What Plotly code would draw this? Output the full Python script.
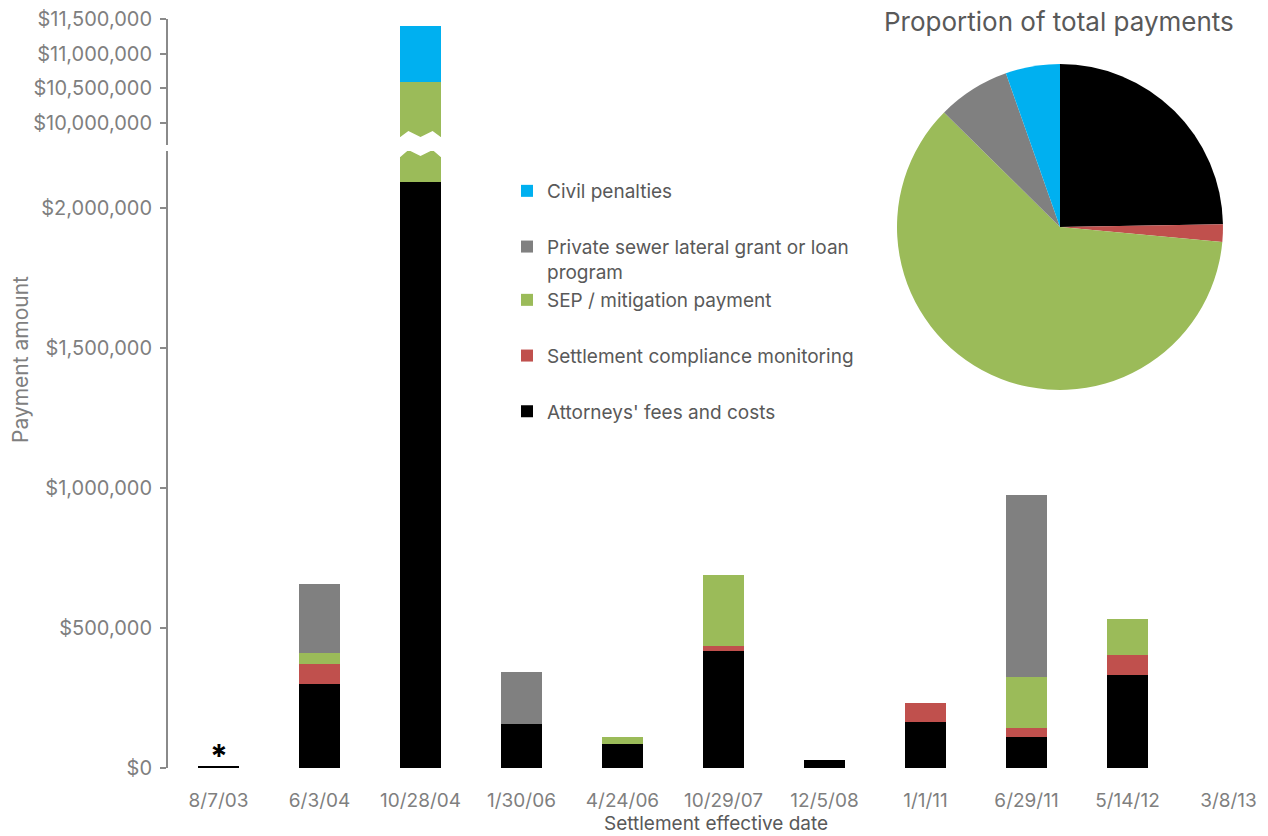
import plotly.graph_objects as go

# ---------------- data ----------------
dates = ["8/7/03", "6/3/04", "10/28/04", "1/30/06", "4/24/06", "10/29/07",
         "12/5/08", "1/1/11", "6/29/11", "5/14/12", "3/8/13"]
attorneys = [8000, 300000, 2094000, 157000, 87000, 419000, 27000, 165000, 112000, 332000, 0]
compliance = [0, 72000, 0, 0, 0, 18000, 0, 66000, 32000, 72000, 0]
sep = [0, 40000, 8499000, 0, 25000, 251000, 0, 0, 181000, 127000, 0]
sewer = [0, 245000, 0, 185000, 0, 0, 0, 0, 649000, 0, 0]
civil = [0, 0, 806000, 0, 0, 0, 0, 0, 0, 0, 0]

series_names = ["Attorneys' fees and costs", "Settlement compliance monitoring",
                "SEP / mitigation payment", "Private sewer lateral grant or loan<br>program",
                "Civil penalties"]
series_vals = [attorneys, compliance, sep, sewer, civil]
series_colors = ["#000000", "#C0504D", "#9BBB59", "#808080", "#00B0F0"]
series_legend = ["legend2", "legend2", "legend2", "legend", "legend"]
series_rank = [5, 4, 3, 2, 1]

low_ticks = [0, 500000, 1000000, 1500000, 2000000]
high_ticks = [10000000, 10500000, 11000000, 11500000]

# ---------------- layout geometry ----------------
W, H = 1268, 836
ML, MR, MT, MB = 168, 4, 19, 68
PW, PH = W - ML - MR, H - MT - MB
def py(p):  # pixel y -> paper y
    return (H - MB - p) / PH
def px(p):  # pixel x -> paper x
    return (p - ML) / PW

FONT = "Inter"
TICKC = "#7f7f7f"
TEXTC = "#595959"
AXC = "#8a8a8a"

fig = go.Figure()
for name, vals, col, lg, rk in zip(series_names, series_vals, series_colors,
                                   series_legend, series_rank):
    fig.add_trace(go.Bar(x=dates, y=vals, name=name, marker_color=col,
                         marker_line_width=0, width=0.4, xaxis="x", yaxis="y",
                         legendgroup=name, legend=lg, legendrank=rk))
    fig.add_trace(go.Bar(x=dates, y=vals, name=name, marker_color=col,
                         marker_line_width=0, width=0.4, xaxis="x2", yaxis="y2",
                         legendgroup=name, showlegend=False, legend=lg, legendrank=rk))

totals = [sum(v) for v in zip(*series_vals)]
fig.add_trace(go.Pie(labels=[n.replace("<br>", " ") for n in series_names],
                     values=[sum(v) for v in series_vals],
                     marker=dict(colors=series_colors, line=dict(width=0)),
                     sort=False, direction="clockwise", rotation=0,
                     textinfo="none", hoverinfo="label+percent", showlegend=False,
                     domain=dict(x=[px(897), px(1223)], y=[py(390), py(64)])))

def money(v):
    return f"${v:,}"

xr = [-0.5, -0.5 + PW / 101.0]
yax_common = dict(showline=True, linecolor=AXC, linewidth=2, ticks="outside",
                  ticklen=6, tickcolor=AXC, tickwidth=1.5, showgrid=False,
                  zeroline=False, ticklabelstandoff=4,
                  tickfont=dict(size=20, color=TICKC, family=FONT))
legend_common = dict(xanchor="left", yanchor="top", traceorder="grouped",
                     tracegroupgap=28, valign="top",
                     font=dict(size=19, color=TEXTC, family=FONT),
                     bgcolor="rgba(0,0,0,0)")
fig.update_layout(
    width=W, height=H, barmode="stack",
    margin=dict(l=ML, r=MR, t=MT, b=MB, autoexpand=False),
    paper_bgcolor="white", plot_bgcolor="white",
    font=dict(family=FONT, color=TICKC),
    xaxis=dict(domain=[0, 1], range=xr, anchor="y", showline=False, showgrid=False,
               ticks="", ticklabelstandoff=19, tickfont=dict(size=19, color=TICKC),
               zeroline=False),
    xaxis2=dict(domain=[0, 1], range=xr, anchor="y2", matches="x", showline=False,
                showgrid=False, showticklabels=False, ticks="", zeroline=False),
    yaxis=dict(domain=[0, py(151)], range=[0, (H - MB - 151) / 280.0 * 1e6],
               tickvals=low_ticks, ticktext=[money(v) for v in low_ticks], **yax_common),
    yaxis2=dict(domain=[py(145), 1],
                range=[11500000 - (145 - MT) / (104.0 / 1.5e6), 11500000],
                tickvals=high_ticks, ticktext=[money(v) for v in high_ticks], **yax_common),
    legend=dict(x=px(507), y=py(172), **legend_common),
    legend2=dict(x=px(507), y=py(281), **legend_common),
    showlegend=True,
)

# axis titles and pie title
fig.add_annotation(text="Payment amount", xref="paper", yref="paper",
                   x=px(20), y=py(360), xanchor="center", yanchor="middle",
                   textangle=-90, showarrow=False,
                   font=dict(size=21, color=TICKC, family=FONT))
fig.add_annotation(text="Settlement effective date", xref="paper", yref="paper",
                   x=px(716), y=py(823), xanchor="center", yanchor="middle",
                   showarrow=False, font=dict(size=19, color=TEXTC, family=FONT))
fig.add_annotation(text="Proportion of total payments", xref="paper", yref="paper",
                   x=px(1059), y=py(21), xanchor="center", yanchor="middle",
                   showarrow=False, font=dict(size=26, color=TEXTC, family=FONT))

# asterisk above the tiny first bar
fig.add_annotation(text="<b>*</b>", x=dates[0], y=totals[0], xref="x", yref="y",
                   xanchor="center", yanchor="bottom", showarrow=False, yshift=-12,
                   font=dict(size=32, color="black", family=FONT))

# zig-zag break on the tallest bar
i = totals.index(max(totals))
up = [(-0.22, 137), (-0.2, 137), (-0.12, 131), (0.0, 137), (0.12, 131), (0.2, 137), (0.22, 137)]
lo = [(0.22, 157), (0.2, 157), (0.12, 150), (0.0, 156), (-0.12, 150), (-0.2, 157), (-0.22, 157)]
pts = up + lo
path = "M " + " L ".join(f"{i + dx:.3f},{py(p):.5f}" for dx, p in pts) + " Z"
fig.add_shape(type="path", path=path, xref="x", yref="paper",
              fillcolor="white", line=dict(width=0), layer="above")

fig.write_html("out.html", config={"displayModeBar": False},
               post_script="document.body.style.margin='0';")
